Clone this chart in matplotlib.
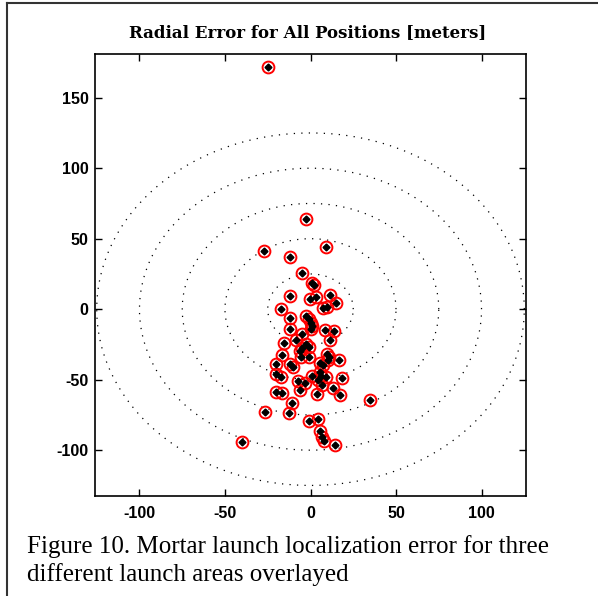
import numpy as np
import matplotlib
matplotlib.use("Agg")
import matplotlib.pyplot as plt
from matplotlib.lines import Line2D

plt.rcParams["axes.unicode_minus"] = False

# radial error of each launch estimate [m]
err_x = [-24.9, -26.9, -12.1, -2.9, 8.8, -4.7, 1.0, 2.0, -12.1, -0.3,
         3.5, 11.3, 15.0, -17.0, 7.4, 9.9, -12.1, -2.9, -0.9, 0.3,
         0.9, 0.3, -12.1, 8.4, 13.6, -4.7, 11.3, -15.6, -8.2, -2.9,
         -0.6, -4.9, -6.1, 9.6, 11.1, 10.2, -16.4, -5.8, -0.9, 16.4,
         -19.9, -11.7, -10.1, 5.4, 7.4, -20.1, -17.5, -7.4, -3.5, 0.6,
         5.3, 6.4, 8.8, 4.4, 18.5, 7.0, 12.9, 17.0, -19.9, -16.6,
         -6.0, 3.9, -11.1, 34.6, -26.5, -12.7, -1.0, 4.3, 5.4, 6.8,
         7.8, -40.3, 14.2]
err_y = [172.1, 41.1, 36.9, 63.8, 44.0, 25.5, 18.8, 17.4, 9.2, 6.9,
         8.7, 9.9, 4.5, 0.2, 0.7, 1.4, -6.6, -5.0, -7.1, -9.6,
         -12.1, -14.2, -14.2, -14.9, -15.6, -17.9, -22.0, -24.3, -22.0, -24.8,
         -26.9, -27.7, -29.8, -31.9, -34.0, -35.8, -32.6, -34.0, -33.9, -36.2,
         -39.0, -39.0, -40.9, -38.1, -39.7, -46.1, -48.4, -50.8, -52.3, -47.5,
         -44.7, -47.2, -48.2, -50.0, -48.6, -53.5, -56.2, -61.0, -58.5, -59.6,
         -57.0, -60.0, -66.3, -64.5, -72.7, -73.5, -79.3, -78.0, -86.5, -90.6,
         -93.3, -94.3, -96.0]

ring_radii = [25, 50, 75, 100, 125]
x_ticks = [-100, -50, 0, 50, 100]
y_ticks = [-100, -50, 0, 50, 100, 150]

title = "Radial Error for All Positions [meters]"
caption_lines = ["Figure 10. Mortar launch localization error for three",
                 "different launch areas overlayed"]

fig = plt.figure(figsize=(5.98, 5.96), dpi=100)
ax = fig.add_axes([95 / 598, 1 - 496 / 596, 431 / 598, 442 / 596])

theta = np.linspace(0, 2 * np.pi, 500)
for r in ring_radii:
    ax.plot(r * np.cos(theta), r * np.sin(theta), color="black",
            lw=0.9, linestyle=(0, (1, 5)))

ax.plot(err_x, err_y, linestyle="none", marker="o", markersize=8.5,
        markerfacecolor="none", markeredgecolor="red", markeredgewidth=1.4)
ax.plot(err_x, err_y, linestyle="none", marker="D", markersize=3.5,
        color="black")

ax.set_xlim(-126, 126)
ax.set_ylim(-132.5, 181)
ax.set_xticks(x_ticks)
ax.set_yticks(y_ticks)
ax.tick_params(direction="in", length=5, width=1, top=True, right=True)
ax.tick_params(axis="x", pad=7.5)
ax.tick_params(axis="y", pad=4.5)
for lab in ax.get_xticklabels() + ax.get_yticklabels():
    lab.set_family("Liberation Sans")
    lab.set_fontweight("bold")
    lab.set_fontsize(11.5)
for s in ax.spines.values():
    s.set_linewidth(1.2)

fig.text(308 / 598, 1 - 33 / 596, title, ha="center", va="center",
         family="DejaVu Serif", fontweight="bold", fontsize=12)
fig.text(27 / 598, 1 - 553 / 596, caption_lines[0], ha="left",
         va="baseline", family="Liberation Serif", fontsize=18)
fig.text(27 / 598, 1 - 581 / 596, caption_lines[1], ha="left",
         va="baseline", family="Liberation Serif", fontsize=18)

# box of the document page
fig.add_artist(Line2D([7 / 598, 7 / 598], [0, 1 - 3 / 596], color="#333333",
                      lw=1.5))
fig.add_artist(Line2D([7 / 598, 1], [1 - 3 / 596, 1 - 3 / 596],
                      color="#333333", lw=1.5))

fig.savefig("out.png", dpi=100)
